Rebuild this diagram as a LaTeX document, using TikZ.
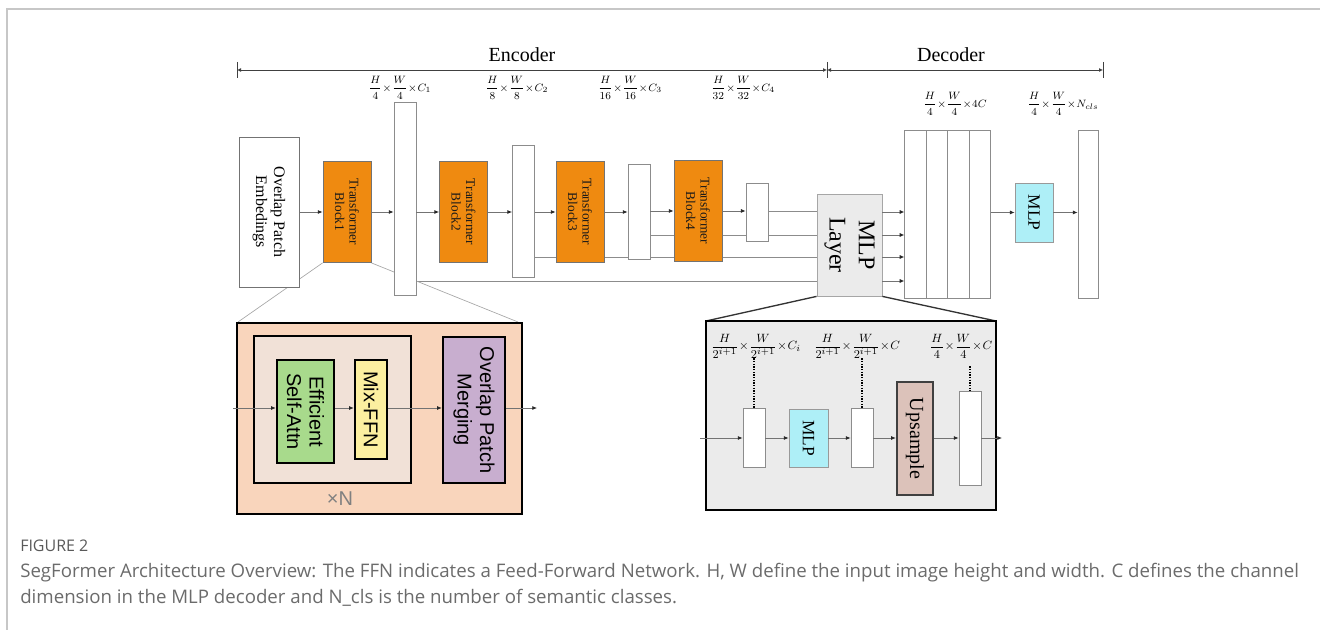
\documentclass[tikz,border=0pt]{standalone}
\usepackage{amsmath}
\usepackage{fontspec}
\setmainfont{Liberation Serif}
\newfontfamily\arialfont{Liberation Sans}
\newfontfamily\capfont{Open Sans}
\usetikzlibrary{arrows.meta,positioning,backgrounds}

\definecolor{tforange}{HTML}{EF8A10}
\definecolor{mlpcyan}{HTML}{AEEFF7}
\definecolor{zpeach}{HTML}{F9D5BC}
\definecolor{zinner}{HTML}{F1E1D7}
\definecolor{attgreen}{HTML}{A8DA8C}
\definecolor{ffnyellow}{HTML}{FCEFA0}
\definecolor{mergepurple}{HTML}{C8AECF}
\definecolor{upsbrown}{HTML}{DCC2BA}
\newcommand{\tm}{\mkern1mu{\times}\mkern1mu}

\begin{document}
\begin{tikzpicture}[
  x=0.75pt, y=-0.75pt,
  vtext/.style={rotate=-90, align=center, inner sep=0pt},
  tbtext/.style={font=\fontsize{10}{11}\selectfont, text=black!90},
  sanslbl/.style={font=\arialfont\fontsize{15}{17}\selectfont},
  fmap/.style={draw=black!45, fill=white, line width=0.6pt, minimum width=16.5pt, inner sep=0pt},
  tblock/.style={draw=black!55, fill=tforange, line width=0.6pt, minimum width=36pt, minimum height=75.75pt, inner sep=0pt},
  cyanbox/.style={draw=black!40, fill=mlpcyan, line width=0.6pt, inner sep=0pt},
  zbox/.style={draw=black, line width=2.2pt, inner sep=0pt},
  sbox/.style={draw=black, line width=1.8pt, inner sep=0pt},
  pf/.style={draw=black!55, line width=0.6pt, -{Latex[length=3.5pt,width=3pt,color=black!85]}},
  ln/.style={draw=black!45, line width=0.6pt},
  zoomln/.style={draw=black!35, line width=0.5pt},
  span/.style={draw=black!75, line width=0.7pt, {Latex[length=3pt,width=3pt]}-{Latex[length=3pt,width=3pt]}},
  dim/.style={font=\fontsize{8.5}{9}\selectfont, inner sep=0pt},
  rdim/.style={font=\fontsize{9.5}{10}\selectfont, inner sep=0pt},
  dotline/.style={draw=black, line width=1.6pt, dash pattern=on 1pt off 1pt}
]
\useasboundingbox (0,0) rectangle (1320,630);
\draw[black!22, line width=1.5pt] (7,630) -- (7,9) -- (1320,9);

% encoder / decoder span
\coordinate (encL) at (237,70);
\coordinate (encR) at (827,70);
\coordinate (decR) at (1103,70);
\draw[span] (encL) -- (encR);
\draw[span] (encR) -- (decR);
\foreach \c in {encL,encR,decR}
  \draw[black!75, line width=0.7pt] ([yshift=6pt]\c) -- ([yshift=-6pt]\c);
\node[font=\fontsize{15}{17}\selectfont] (enctxt) at (522,55) {Encoder};
\node[font=\fontsize{15}{17}\selectfont] (dectxt) at (951,55) {Decoder};

% encoder
\node[draw=black!55, fill=white, line width=0.6pt, minimum width=45pt, minimum height=112.5pt, inner sep=0pt,
  label={[vtext, font=\fontsize{12}{13.5}\selectfont]center:{Overlap Patch\\Embedings}}] (ovl) at (269,212) {};
\node[tblock, label={[vtext, tbtext]center:{Transformer\\Block1}}] (blk1) at (347,212) {};
\node[fmap, minimum height=145pt] (fm1) at (405,199) {};
\node[tblock, label={[vtext, tbtext]center:{Transformer\\Block2}}] (blk2) at (463.5,212) {};
\node[fmap, minimum height=99pt] (fm2) at (523.5,211) {};
\node[tblock, label={[vtext, tbtext]center:{Transformer\\Block3}}] (blk3) at (580,212) {};
\node[fmap, minimum height=71.25pt] (fm3) at (639,211.5) {};
\node[tblock, label={[vtext, tbtext]center:{Transformer\\Block4}}] (blk4) at (698,211) {};
\node[fmap, minimum height=43.5pt] (fm4) at (757,212) {};

\node[dim] (d1) at (400,88) {$\dfrac{H}{4}\tm\dfrac{W}{4}\tm C_1$};
\node[dim] (d2) at (517,88) {$\dfrac{H}{8}\tm\dfrac{W}{8}\tm C_2$};
\node[dim] (d3) at (630,88) {$\dfrac{H}{16}\tm\dfrac{W}{16}\tm C_3$};
\node[dim] (d4) at (743,88) {$\dfrac{H}{32}\tm\dfrac{W}{32}\tm C_4$};

% decoder
\node[draw=black!35, fill=black!8, line width=0.6pt, minimum width=48.75pt, minimum height=76.5pt, inner sep=0pt,
  label={[vtext, font=\fontsize{18}{22}\selectfont]center:{MLP\\Layer}}] (mlp) at (849.5,245) {};
\foreach \i/\cx in {1/915.5,2/937,3/958.5,4/980}
  \node[fmap, minimum width=16.1pt, minimum height=126pt] (cat\i) at (\cx,214) {};
\node[cyanbox, minimum width=28.5pt, minimum height=44.25pt,
  label={[vtext, font=\fontsize{13}{14}\selectfont]center:{MLP}}] (dmlp) at (1034,212.5) {};
\node[fmap, minimum width=15pt, minimum height=126pt] (fin) at (1088,214) {};
\node[dim] (d5) at (955,104) {$\dfrac{H}{4}\tm\dfrac{W}{4}\tm 4C$};
\node[dim] (d6) at (1063,104) {$\dfrac{H}{4}\tm\dfrac{W}{4}\tm N_{cls}$};

% main flow
\draw[pf] (ovl.east) -- (blk1.west);
\foreach \b/\f in {blk1/fm1,blk2/fm2,blk3/fm3,blk4/fm4}
  \draw[pf] (\b.east) -- (\b.east -| \f.west);
\foreach \f/\b in {fm1/blk2,fm2/blk3,fm3/blk4}
  \draw[pf] (\f.east |- \b) -- (\b.west);
\draw[ln] (fm4.east |- blk4) -- (mlp.west |- blk4);
\begin{scope}[on background layer]
  \draw[ln] (fm3.east |- 0,235) -- (mlp.west |- 0,235);
  \draw[ln] (fm2.east |- 0,257) -- (mlp.west |- 0,257);
  \draw[ln] (fm1.east |- 0,281) -- (mlp.west |- 0,281);
  \draw[zoomln] (blk1.south west) -- (238,322);
  \draw[zoomln] (blk1.south east) -- (518,322);
\end{scope}
\foreach \yy in {212,235,257,281}
  \draw[pf] (mlp.east |- 0,\yy) -- (cat1.west |- 0,\yy);
\draw[pf] (cat4.east |- dmlp) -- (dmlp.west);
\draw[pf] (dmlp.east) -- (dmlp.east -| fin.west);

% transformer block detail
\node[zbox, fill=zpeach, minimum width=213.75pt, minimum height=143.25pt] (lz) at (379.5,418.5) {};
\node[sbox, fill=zinner, minimum width=117.75pt, minimum height=110.25pt] (lzin) at (332.5,409.5) {};
\node[sbox, fill=attgreen, minimum width=42.75pt, minimum height=77.25pt,
  label={[vtext, sanslbl]center:{Efficient\\Self-Attn}}] (esa) at (305.5,411.5) {};
\node[sbox, fill=ffnyellow, minimum width=24pt, minimum height=74.25pt,
  label={[vtext, sanslbl]center:{Mix-FFN}}] (ffn) at (371,409.5) {};
\node[sbox, fill=mergepurple, minimum width=46.5pt, minimum height=109.5pt,
  label={[vtext, sanslbl]center:{Overlap Patch\\Merging}}] (opm) at (474,410) {};
\node[text=black!50, font=\arialfont\fontsize{15}{16}\selectfont] (rep) at (340,499) {×N};
\coordinate (lzinp) at (233,408);
\coordinate (lzout) at (537,408);
\draw[pf] (lzinp) -- (lzinp -| esa.west);
\draw[pf] (esa.east |- lzinp) -- (ffn.west |- lzinp);
\draw[pf] (ffn.east |- lzinp) -- (opm.west |- lzinp);
\draw[pf] (opm.east |- lzinp) -- (lzout);

% MLP layer detail
\draw[black!80, line width=1pt] (mlp.south west) -- (706,321);
\draw[black!80, line width=1pt] (mlp.south east) -- (996,321);
\node[zbox, fill=black!8, minimum width=217.5pt, minimum height=141.75pt] (rz) at (851,415.5) {};
\node[fmap, minimum height=44.25pt] (fa) at (754,437.5) {};
\node[cyanbox, minimum width=29.25pt, minimum height=43.5pt,
  label={[vtext, font=\fontsize{13}{14}\selectfont]center:{MLP}}] (rmlp) at (808.5,438) {};
\node[fmap, minimum height=44.25pt] (fb) at (862,437.5) {};
\node[draw=black!75, fill=upsbrown, line width=1.8pt, minimum width=27pt, minimum height=84.75pt, inner sep=0pt,
  label={[vtext, font=\fontsize{15}{16}\selectfont]center:{Upsample}}] (ups) at (915,438.5) {};
\node[fmap, minimum height=70.5pt] (fc) at (970,438) {};
\node[rdim] (ra) at (756,346) {$\dfrac{H}{2^{i+1}}\tm\dfrac{W}{2^{i+1}}\tm C_i$};
\node[rdim] (rb) at (857,346) {$\dfrac{H}{2^{i+1}}\tm\dfrac{W}{2^{i+1}}\tm C$};
\node[rdim] (rc) at (961,346) {$\dfrac{H}{4}\tm\dfrac{W}{4}\tm C$};
\draw[dotline] (fa.north |- ra.south) -- (fa.north);
\draw[dotline] (fb.north |- rb.south) -- (fb.north);
\draw[dotline, shorten <=6pt] (fc.north |- rc.south) -- (fc.north);
\coordinate (rzinp) at (700,438);
\coordinate (rzout) at (1002,438);
\draw[pf] (rzinp) -- (rzinp -| fa.west);
\foreach \a/\b in {fa/rmlp,rmlp/fb,fb/ups,ups/fc}
  \draw[pf] (\a.east |- rzinp) -- (\b.west |- rzinp);
\draw[pf] (fc.east |- rzinp) -- (rzout);

% caption
\node[anchor=base west, inner sep=0pt, text=black!65, font=\capfont\fontsize{12}{13}\selectfont] (figno) at (20,551) {FIGURE 2};
\node[anchor=base west, inner sep=0pt, text=black!58, font=\capfont\fontsize{14}{16}\selectfont] (cap1) at (20,577)
  {SegFormer Architecture Overview: The FFN indicates a Feed-Forward Network. H, W define the input image height and width. C defines the channel};
\node[anchor=base west, inner sep=0pt, text=black!58, font=\capfont\fontsize{14}{16}\selectfont] (cap2) at (20,603)
  {dimension in the MLP decoder and N\_cls is the number of semantic classes.};
\end{tikzpicture}
\end{document}
